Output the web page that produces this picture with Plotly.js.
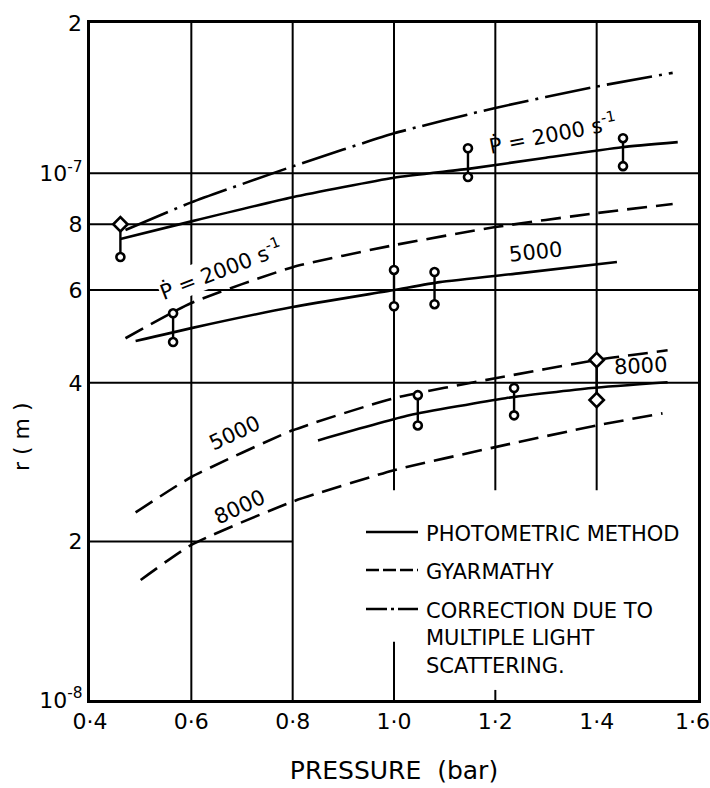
<!DOCTYPE html>
<html>
<head>
<meta charset="utf-8">
<script src="https://cdn.plot.ly/plotly-3.0.1.min.js"></script>
<style>
  html, body { margin: 0; padding: 0; background: #fff; }
  #chart { width: 710px; height: 788px; }
</style>
</head>
<body>
<div id="chart"></div>
<script>
// Droplet radius r (m) against pressure (bar) for expansion rates Ṗ = 2000, 5000, 8000 s⁻¹

// Photometric method (solid)
const photo2000P = [0.46, 0.6, 0.8, 1.0, 1.15, 1.3, 1.45, 1.56];
const photo2000R = [7.5e-8, 8.1e-8, 9.0e-8, 9.8e-8, 1.02e-7, 1.07e-7, 1.12e-7, 1.145e-7];
const photo5000P = [0.49, 0.6, 0.8, 1.0, 1.09, 1.25, 1.44];
const photo5000R = [4.8e-8, 5.08e-8, 5.57e-8, 6.0e-8, 6.21e-8, 6.46e-8, 6.78e-8];
const photo8000P = [0.85, 1.03, 1.22, 1.39, 1.54];
const photo8000R = [3.11e-8, 3.47e-8, 3.74e-8, 3.91e-8, 4.01e-8];

// Gyarmathy (dashed)
const gyar2000P = [0.47, 0.6, 0.8, 1.0, 1.2, 1.4, 1.55];
const gyar2000R = [4.86e-8, 5.67e-8, 6.63e-8, 7.3e-8, 7.9e-8, 8.4e-8, 8.74e-8];
const gyar5000P = [0.49, 0.6, 0.8, 1.0, 1.2, 1.4, 1.54];
const gyar5000R = [2.27e-8, 2.65e-8, 3.25e-8, 3.74e-8, 4.08e-8, 4.42e-8, 4.61e-8];
const gyar8000P = [0.5, 0.6, 0.8, 1.0, 1.2, 1.4, 1.53];
const gyar8000R = [1.69e-8, 1.97e-8, 2.38e-8, 2.73e-8, 3.02e-8, 3.32e-8, 3.5e-8];

// Correction due to multiple light scattering (dash-dot), Ṗ = 2000 s⁻¹
const corrP = [0.47, 0.6, 0.8, 1.0, 1.2, 1.4, 1.55];
const corrR = [7.8e-8, 8.8e-8, 1.03e-7, 1.19e-7, 1.33e-7, 1.46e-7, 1.55e-7];

// Measured scatter ranges
const rangeP    = [0.46, 1.146, 1.452, 0.564, 1.0, 1.08, 1.047, 1.237, 1.40];
const rangeHigh = [8.0e-8, 1.115e-7, 1.165e-7, 5.42e-8, 6.55e-8, 6.49e-8, 3.79e-8, 3.91e-8, 4.42e-8];
const rangeLow  = [6.93e-8, 9.83e-8, 1.031e-7, 4.78e-8, 5.59e-8, 5.64e-8, 3.32e-8, 3.47e-8, 3.71e-8];

// Axis ticks
const xTickVals = [0.4, 0.6, 0.8, 1.0, 1.2, 1.4, 1.6];
const xTickText = ['0·4', '0·6', '0·8', '1·0', '1·2', '1·4', '1·6'];
const yTickVals = [1e-8, 2e-8, 4e-8, 6e-8, 8e-8, 1e-7];
const yTickText = ['10<sup>-8</sup>', '2', '4', '6', '8', '10<sup>-7</sup>'];

const FONT = 'DejaVu Sans, Liberation Sans, sans-serif';
const INK = '#000';
const LOG_TOP = -6.715;
const Y_TOP = Math.pow(10, LOG_TOP);

// grid: segments [x0, x1, y0, y1]
const gridSegs = [
  [0.6, 0.6, 1e-8, Y_TOP], [0.8, 0.8, 1e-8, Y_TOP],
  [1.0, 1.0, 2.5e-8, Y_TOP], [1.0, 1.0, 1e-8, 1.29e-8],
  [1.2, 1.2, 2.5e-8, Y_TOP], [1.2, 1.2, 1e-8, 1.045e-8],
  [1.4, 1.4, 2.5e-8, Y_TOP],
  [0.4, 0.8, 2e-8, 2e-8],
  [0.4, 1.6, 4e-8, 4e-8], [0.4, 1.6, 6e-8, 6e-8],
  [0.4, 1.6, 8e-8, 8e-8], [0.4, 1.6, 1e-7, 1e-7]
];
const gx = [], gy = [];
gridSegs.forEach(s => { gx.push(s[0], s[1], null); gy.push(s[2], s[3], null); });

const traces = [{
  type: 'scatter', mode: 'lines', x: gx, y: gy,
  line: { color: INK, width: 2 }, hoverinfo: 'skip', showlegend: false
}];

const DASH_GYAR = '20px,9px';
const DASH_CORR = '46px,7px,3px,7px';
function curve(x, y, dash) {
  return { type: 'scatter', mode: 'lines', x: x, y: y,
    line: { color: INK, width: 2.6, dash: dash, shape: 'spline', smoothing: 0.5 },
    hoverinfo: 'skip', showlegend: false };
}
traces.push(curve(corrP, corrR, DASH_CORR));
traces.push(curve(photo2000P, photo2000R, 'solid'));
traces.push(curve(photo5000P, photo5000R, 'solid'));
traces.push(curve(photo8000P, photo8000R, 'solid'));
traces.push(curve(gyar2000P, gyar2000R, DASH_GYAR));
traces.push(curve(gyar5000P, gyar5000R, DASH_GYAR));
traces.push(curve(gyar8000P, gyar8000R, DASH_GYAR));

// ranges: vertical bar with hollow end markers
const diamondEnds = { 0: ['diamond', 'circle'], 8: ['diamond', 'diamond'] };
const rx = [], ry = [], rsym = [], rsize = [];
rangeP.forEach((p, i) => {
  const ends = diamondEnds[i] || ['circle', 'circle'];
  rx.push(p, p, null);
  ry.push(rangeHigh[i], rangeLow[i], null);
  rsym.push(ends[0], ends[1], 'circle');
  rsize.push(ends[0] === 'diamond' ? 11 : 8, ends[1] === 'diamond' ? 11 : 8, 0);
});
traces.push({
  type: 'scatter', mode: 'lines+markers', x: rx, y: ry,
  line: { color: INK, width: 2.4 },
  marker: { symbol: rsym, size: rsize, color: '#ffffff', opacity: 1,
            line: { color: '#000000', width: 2.6 } },
  hoverinfo: 'skip', showlegend: false, cliponaxis: false
});

// legend, drawn in the lower right of the frame
const L = 90, W = 608, B = 700, H = 677;
const px = v => (v - L) / W;
const py = v => (B - v) / H;
const legendRows = [
  { y: 532, dash: 'solid', text: 'PHOTOMETRIC METHOD' },
  { y: 570, dash: '13px,4px', text: 'GYARMATHY' },
  { y: 609, dash: '21px,4px,3px,4px', text: 'CORRECTION DUE TO<br>MULTIPLE LIGHT<br>SCATTERING.' }
];
const shapes = legendRows.map(r => ({
  type: 'line', xref: 'paper', yref: 'paper',
  x0: px(366), x1: px(418), y0: py(r.y), y1: py(r.y),
  line: { color: INK, width: 2.6, dash: r.dash }
}));

const labelFont = { family: FONT, size: 21, color: INK };
const annotations = legendRows.map(r => ({
  xref: 'paper', yref: 'paper', x: px(424), y: py(r.y) + 0.017,
  xanchor: 'left', yanchor: 'top', align: 'left', showarrow: false,
  text: r.text, font: { family: FONT, size: 21, color: INK }
}));

// curve labels (y in log10 units on the log axis)
const curveLabels = [
  { x: 1.312, y: -6.924, a: -11, t: 'Ṗ = 2000 s<sup>-1</sup>' },
  { x: 0.657, y: -7.182, a: -21, t: 'Ṗ = 2000 s<sup>-1</sup>', bg: '#fff' },
  { x: 1.28,  y: -7.150, a: -6,  t: '5000' },
  { x: 0.686, y: -7.493, a: -25, t: '5000' },
  { x: 0.696, y: -7.634, a: -25, t: '8000' },
  { x: 1.486, y: -7.366, a: -3,  t: '8000' }
];
curveLabels.forEach(c => annotations.push({
  xref: 'x', yref: 'y', x: c.x, y: c.y, text: c.t, textangle: c.a,
  xanchor: 'center', yanchor: 'middle',
  showarrow: false, font: labelFont, bgcolor: c.bg || 'rgba(0,0,0,0)', borderpad: 0
}));

// the last x label sits pulled in from the page edge, the rest come from the axis
const tickFont = { family: FONT, size: 22, color: INK };
const nX = xTickVals.length - 1;
annotations.push({
  xref: 'x', yref: 'paper', x: xTickVals[nX], y: 0, yshift: -21, xshift: -6,
  text: xTickText[nX], xanchor: 'center', yanchor: 'middle',
  showarrow: false, font: tickFont
});

// top tick label of the log axis and the axis title
annotations.push({
  xref: 'paper', yref: 'paper', x: px(75), y: 1.0, text: '2',
  xanchor: 'center', yanchor: 'middle',
  showarrow: false, font: tickFont
});
annotations.push({
  xref: 'paper', yref: 'paper', x: px(22), y: py(437), text: 'r ( m )',
  xanchor: 'center', yanchor: 'middle',
  textangle: -90, showarrow: false, font: tickFont
});

const layout = {
  width: 710, height: 788,
  margin: { l: 90, r: 12, t: 23, b: 88 },
  paper_bgcolor: '#fff', plot_bgcolor: '#fff',
  showlegend: false,
  font: { family: FONT, color: INK },
  xaxis: {
    range: [0.4, 1.6], showgrid: false, zeroline: false,
    tickmode: 'array', tickvals: xTickVals.slice(0, nX), ticktext: xTickText.slice(0, nX),
    ticks: '', tickfont: tickFont,
    showline: true, mirror: true, linecolor: INK, linewidth: 3,
    title: { text: 'PRESSURE  (bar)', font: { family: FONT, size: 25, color: INK }, standoff: 29 }
  },
  yaxis: {
    type: 'log', range: [-8, LOG_TOP], showgrid: false, zeroline: false,
    tickmode: 'array', tickvals: yTickVals, ticktext: yTickText,
    ticks: '', tickfont: tickFont,
    showline: true, mirror: true, linecolor: INK, linewidth: 3
  },
  shapes: shapes,
  annotations: annotations
};

Plotly.newPlot('chart', traces, layout, { displayModeBar: false, staticPlot: true });
</script>
</body>
</html>
